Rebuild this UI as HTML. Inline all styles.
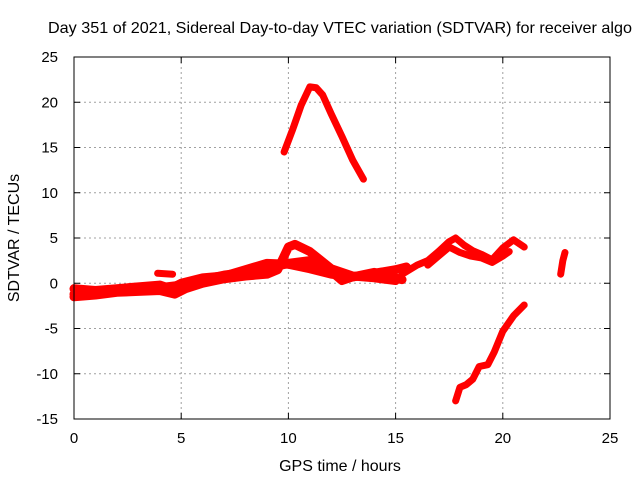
<!DOCTYPE html>
<html><head><meta charset="utf-8"><style>
body{margin:0;background:#fff}
svg text{font-family:"Liberation Sans",sans-serif;font-size:15px;fill:#000}
</style></head><body>
<svg id="chart" width="640" height="480">
<rect width="640" height="480" fill="#fff"/>
<text x="340" y="33" text-anchor="middle" textLength="584" lengthAdjust="spacingAndGlyphs" style="font-size:16px">Day 351 of 2021, Sidereal Day-to-day VTEC variation (SDTVAR) for receiver algo</text>
<g id="grid"></g><g id="marks"></g>
<rect x="74" y="57" width="536" height="362" fill="none" stroke="#000" stroke-width="1"/>
<g id="ticks"></g>
<text x="340" y="471" text-anchor="middle" style="font-size:16px">GPS time / hours</text>
<text transform="translate(19,238) rotate(-90)" text-anchor="middle" style="font-size:16px">SDTVAR / TECUs</text>
</svg>
<script>
const xTicks=[0,5,10,15,20,25];
const yTicks=[-15,-10,-5,0,5,10,15,20,25];
const seriesNames=["trace-a","trace-b","trace-c","bump","cluster-a","cluster-b","late","arc","negative"];
const seriesX=[
[0,1,2,3,4,4.5,5,6,7,8,9,10,11,12,13,14,15,15.5],
[0,1,2,3,4,4.7,5.2,6,7,8,9,9.5,10,10.3,11,12,13,14,15],
[0,2,4,5,6,7,8,9,10,11,12,12.5,13,14,15.3],
[3.9,4.6],
[15.3,16,16.5,17,17.5,17.8,18.2,18.6,19,19.5,20,20.5,21],
[16.5,17,17.5,18,18.5,19,19.5,20,20.3],
[22.7,22.8,22.9],
[9.8,10.2,10.6,11,11.3,11.6,12,12.5,13,13.5],
[17.8,18,18.3,18.6,18.9,19.3,19.6,20,20.5,21]
];
const seriesY=[
[-0.6,-0.8,-0.6,-0.4,-0.2,-0.6,0,0.6,0.8,1.5,2.2,2.1,1.6,1,0.7,1.1,1.5,1.8],
[-1.5,-1.3,-1,-0.9,-0.8,-1.2,-0.6,0,0.5,0.8,1,1.5,4,4.3,3.5,1.6,0.8,0.6,0.3],
[-1.2,-0.9,-0.5,-0.2,0.4,0.9,1.2,1.6,2.2,2.5,1.3,0.3,0.7,1.2,0.4],
[1.1,1],
[1,2,2.5,3.5,4.6,5,4.2,3.6,3.2,2.6,3.9,4.8,4],
[2,3,4,3.4,3,2.8,2.3,3,3.5],
[1,2.5,3.4],
[14.5,17,19.7,21.7,21.6,20.8,18.7,16.2,13.6,11.5],
[-13,-11.5,-11.2,-10.6,-9.2,-9,-7.6,-5.3,-3.6,-2.4]
];
const X0=74,X1=610,Y0=419,Y1=57;
const xs=v=>X0+(v-0)/(25-0)*(X1-X0);
const ys=v=>Y0-(v+15)/40*(Y0-Y1);
const NS="http://www.w3.org/2000/svg";
const grid=document.getElementById('grid'),ticks=document.getElementById('ticks'),marks=document.getElementById('marks');
function mk(tag,attrs,parent){const e=document.createElementNS(NS,tag);for(const k in attrs)e.setAttribute(k,attrs[k]);parent.appendChild(e);return e;}
xTicks.forEach(t=>{
 const x=xs(t);
 if(t>0&&t<25){const g=mk('line',{x1:x,x2:x,y1:Y1,y2:Y0,stroke:'#a0a0a0','stroke-dasharray':'2,3'},grid);
 
 }
 mk('line',{x1:x,x2:x,y1:Y0,y2:Y0-6,stroke:'#000'},ticks);
 mk('line',{x1:x,x2:x,y1:Y1,y2:Y1+6,stroke:'#000'},ticks);
 const l=mk('text',{x:x,y:Y0+24,'text-anchor':'middle'},ticks);l.textContent=t;
 
 
});
yTicks.forEach(t=>{
 const y=ys(t);
 if(t>-15&&t<25){const g=mk('line',{x1:X0,x2:X1,y1:y,y2:y,stroke:'#a0a0a0','stroke-dasharray':'2,3'},grid);
 
 }
 mk('line',{x1:X0,x2:X0+6,y1:y,y2:y,stroke:'#000'},ticks);
 mk('line',{x1:X1,x2:X1-6,y1:y,y2:y,stroke:'#000'},ticks);
 const l=mk('text',{x:X0-16,y:y+5,'text-anchor':'end'},ticks);l.textContent=t;
 
 
});
seriesX.forEach((xa,i)=>{
 const pts=xa.map((x,j)=>xs(x)+','+ys(seriesY[i][j])).join(' ');
 const p=mk('polyline',{points:pts,fill:'none',stroke:'#ff0000','stroke-width':i<3?9:7,'stroke-linejoin':'round','stroke-linecap':'round'},marks);
 
 
});
</script>
</body></html>
